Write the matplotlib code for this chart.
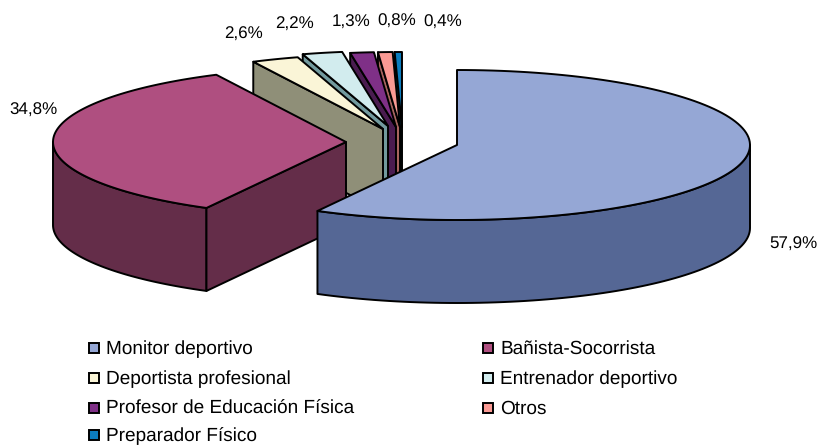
import numpy as np
import matplotlib
matplotlib.use("Agg")
import matplotlib.pyplot as plt
from matplotlib.patches import Polygon, Rectangle

plt.rcParams['font.family'] = ['Liberation Sans', 'DejaVu Sans']
plt.rcParams['text.hinting'] = 'no_hinting'
plt.rcParams['text.hinting_factor'] = 1

categories = ["Monitor deportivo", "Bañista-Socorrista", "Deportista profesional",
              "Entrenador deportivo", "Profesor de Educación Física", "Otros", "Preparador Físico"]
values = [57.9, 34.8, 2.6, 2.2, 1.3, 0.8, 0.4]
value_labels = ["57,9%", "34,8%", "2,6%", "2,2%", "1,3%", "0,8%", "0,4%"]

top_colors = ["#95A7D5", "#AF4F80", "#FAF5D7", "#D2ECEE", "#7F3087", "#FA9A94", "#0C7CBE"]
side_colors = ["#556795", "#642D49", "#8F8F78", "#729A9E", "#4A1C50", "#A76560", "#075885"]

# layout (pixels)
apex = [(457, 145), (346, 142), (383, 129), (388, 126), (396, 127), (400, 127), (402, 127)]
RX, RY, DEPTH = 293, 75, 83
label_pos = [(793, 244), (33, 110), (244, 34), (295, 24), (351, 22), (397, 21), (443, 22)]
legend_pos = [(89, 348), (483, 348), (89, 378), (483, 378), (89, 408), (483, 408), (89, 435)]

fig = plt.figure(figsize=(8.17, 4.45), dpi=100)
ax = fig.add_axes([0, 0, 1, 1])
ax.set_xlim(0, 817)
ax.set_ylim(445, 0)
ax.axis('off')

LW = 1.4


def rim(c, a):
    a = np.radians(a)
    return np.column_stack([c[0] + RX * np.sin(a), c[1] - RY * np.cos(a)])


edges = np.concatenate([[0], np.cumsum(values)]) / sum(values) * 360
poly = dict(edgecolor='black', linewidth=LW, joinstyle='round')

for i in range(len(values) - 1, -1, -1):
    c, a0, a1 = apex[i], edges[i], edges[i + 1]
    # outer wall (front half only)
    lo, hi = max(a0, 90), min(a1, 270)
    if hi > lo:
        arc = rim(c, np.linspace(lo, hi, 80))
        ax.add_patch(Polygon(np.vstack([arc, (arc + [0, DEPTH])[::-1]]),
                             facecolor=side_colors[i], zorder=10 + 3 * (7 - i), **poly))
    # cut face at the start angle (edge-on for the slice starting at 12 o'clock)
    if a0 > 0:
        p = rim(c, np.array([a0]))[0]
        ax.add_patch(Polygon([p, c, (c[0], c[1] + DEPTH), (p[0], p[1] + DEPTH)],
                             facecolor=side_colors[i], zorder=11 + 3 * (7 - i), **poly))
    # top face
    arc = rim(c, np.linspace(a0, a1, 120))
    ax.add_patch(Polygon(np.vstack([[c], arc]), facecolor=top_colors[i],
                         zorder=12 + 3 * (7 - i), **poly))

for (x, y), t in zip(label_pos, value_labels):
    ax.text(x, y, t, fontsize=12, ha='center', va='center', color='black', zorder=50)

for (x, y), name, col in zip(legend_pos, categories, top_colors):
    ax.add_patch(Rectangle((x, y - 5), 10, 10, facecolor=col, edgecolor='black', linewidth=LW, zorder=50))
    ax.text(x + 17, y + 1, name, fontsize=13.7, ha='left', va='center', color='black', zorder=50)

fig.savefig("out.png", dpi=100)
